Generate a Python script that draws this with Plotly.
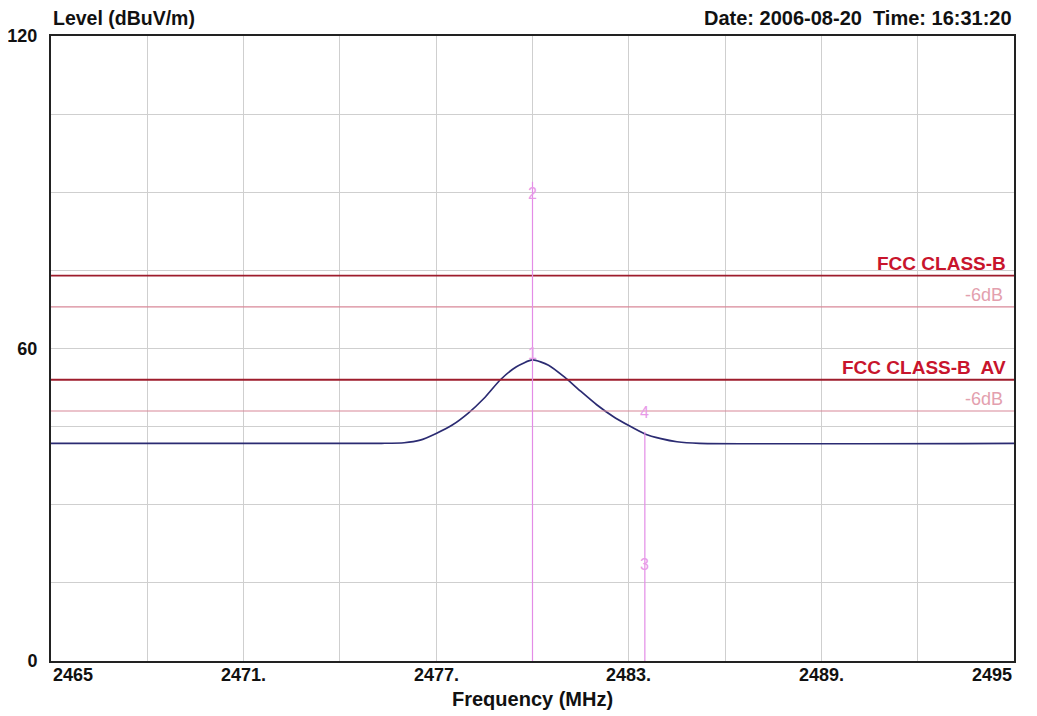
import plotly.graph_objects as go

# ---- data ----
freq_mhz = [2465.0, 2475.3, 2476.0, 2476.5, 2477.0, 2477.5, 2478.0, 2478.5, 2479.0,
            2479.5, 2480.0, 2480.5, 2481.0, 2481.5, 2482.0, 2482.5, 2483.0, 2483.5,
            2484.0, 2484.5, 2485.2, 2495.0]
level_dbuv = [41.8, 41.8, 41.9, 42.4, 43.7, 45.3, 47.6, 50.5, 54.0,
              56.5, 57.8, 56.8, 54.5, 51.8, 49.2, 47.0, 45.2, 43.6,
              42.7, 42.1, 41.8, 41.8]

limit_names = ["FCC CLASS-B", "FCC CLASS-B  AV"]
limit_levels = [74, 54]
margin_label = "-6dB"
margin_db = 6

marker_ids = ["1", "2", "3", "4"]
marker_freqs = [2480.0, 2480.0, 2483.5, 2483.5]
marker_label_levels = [59.0, 89.7, 18.5, 47.7]
marker_line_freqs = [2480.0, 2483.5]
marker_line_tops = [92.0, 44.0]

x_tick_vals = [2465, 2471, 2477, 2483, 2489, 2495]
x_tick_text = ["2465", "2471.", "2477.", "2483.", "2489.", "2495"]
x_grid_vals = list(range(2465, 2496, 3))
y_tick_vals = [0, 60, 120]
y_grid_vals = list(range(0, 121, 15))

x_range = [2465, 2495]
y_range = [0, 120]

title_left = "Level (dBuV/m)"
title_right = "Date: 2006-08-20  Time: 16:31:20"
x_title = "Frequency (MHz)"

# ---- styles ----
FONT_W = "Liberation Sans, Arial, sans-serif"
TRACE_C = "#2b2b72"
LIMIT_C = "#9e1c2c"
LIMIT_TXT_C = "#c8142c"
MARGIN_C = "#d88898"
MARGIN_TXT_C = "#e3a0ae"
MARKER_C = "#e38ce6"
MARKER_TXT_C = "#e89ae8"
GRID_C = "#cfcfcf"

fig = go.Figure()

fig.add_trace(go.Scatter(
    x=freq_mhz, y=level_dbuv, mode="lines",
    line=dict(color=TRACE_C, width=1.7, shape="spline", smoothing=0.6),
    showlegend=False, hoverinfo="x+y"))

shapes = []
annotations = []

# limit lines and their -6dB margin lines
for name, lv in zip(limit_names, limit_levels):
    shapes.append(dict(type="line", xref="x", yref="y", x0=x_range[0], x1=x_range[1],
                       y0=lv - margin_db, y1=lv - margin_db,
                       line=dict(color=MARGIN_C, width=1.2), layer="above"))
    shapes.append(dict(type="line", xref="x", yref="y", x0=x_range[0], x1=x_range[1],
                       y0=lv, y1=lv, line=dict(color=LIMIT_C, width=1.8), layer="above"))
    annotations.append(dict(x=x_range[1], y=lv, xref="x", yref="y", text=name,
                            showarrow=False, xanchor="right", yanchor="bottom",
                            xshift=-6, yshift=0,
                            font=dict(family=FONT_W, size=19, color=LIMIT_TXT_C, weight="bold")))
    annotations.append(dict(x=x_range[1], y=lv - margin_db, xref="x", yref="y",
                            text=margin_label, showarrow=False, xanchor="right",
                            yanchor="bottom", xshift=-9, yshift=0,
                            font=dict(family=FONT_W, size=18, color=MARGIN_TXT_C)))

# marker lines
for mf, top in zip(marker_line_freqs, marker_line_tops):
    shapes.append(dict(type="line", xref="x", yref="y", x0=mf, x1=mf, y0=y_range[0], y1=top,
                       line=dict(color=MARKER_C, width=1.2), layer="above"))

for mid, mf, ml in zip(marker_ids, marker_freqs, marker_label_levels):
    annotations.append(dict(x=mf, y=ml, xref="x", yref="y", text=mid, showarrow=False,
                            xanchor="center", yanchor="middle",
                            font=dict(family=FONT_W, size=16, color=MARKER_TXT_C)))

# x tick labels (end labels aligned inward)
for i, (v, t) in enumerate(zip(x_tick_vals, x_tick_text)):
    anchor = "left" if i == 0 else ("right" if i == len(x_tick_vals) - 1 else "center")
    annotations.append(dict(x=v, y=0, xref="x", yref="paper", text=t, showarrow=False,
                            xanchor=anchor, yanchor="top", yshift=-2,
                            font=dict(family=FONT_W, size=18, color="#111111", weight="bold")))

annotations.append(dict(x=0.5, y=0, xref="paper", yref="paper", text=x_title,
                        showarrow=False, xanchor="center", yanchor="top", yshift=-25,
                        font=dict(family=FONT_W, size=20, color="#111111", weight="bold")))
annotations.append(dict(x=0, y=1, xref="paper", yref="paper", text=title_left,
                        showarrow=False, xanchor="left", yanchor="bottom", yshift=5,
                        font=dict(family=FONT_W, size=19.5, color="#111111", weight="bold")))
annotations.append(dict(x=1, y=1, xref="paper", yref="paper", text=title_right,
                        showarrow=False, xanchor="right", yanchor="bottom", yshift=5,
                        font=dict(family=FONT_W, size=20, color="#111111", weight="bold")))

y_text = [str(v) if v in y_tick_vals else "" for v in y_grid_vals]

# page body adds an 8px offset; margins compensate so the plot area lands at
# x 51..1014, y 36..661 in the window
fig.update_layout(
    width=1037, height=716,
    margin=dict(l=43, r=31, t=28, b=63, autoexpand=False),
    paper_bgcolor="white", plot_bgcolor="white",
    shapes=shapes, annotations=annotations,
    xaxis=dict(range=x_range, tickvals=x_grid_vals, ticktext=[""] * len(x_grid_vals),
               showgrid=True, gridcolor=GRID_C, gridwidth=1, zeroline=False,
               showline=True, linecolor="#222222", linewidth=2, mirror=True, ticks="",
               automargin=False),
    yaxis=dict(range=y_range, tickvals=y_grid_vals, ticktext=y_text,
               showgrid=True, gridcolor=GRID_C, gridwidth=1, zeroline=False,
               showline=True, linecolor="#222222", linewidth=2, mirror=True, ticks="",
               ticklabelstandoff=8, automargin=False,
               tickfont=dict(family=FONT_W, size=18, color="#111111", weight="bold")),
)

fig.write_html("out.html")
